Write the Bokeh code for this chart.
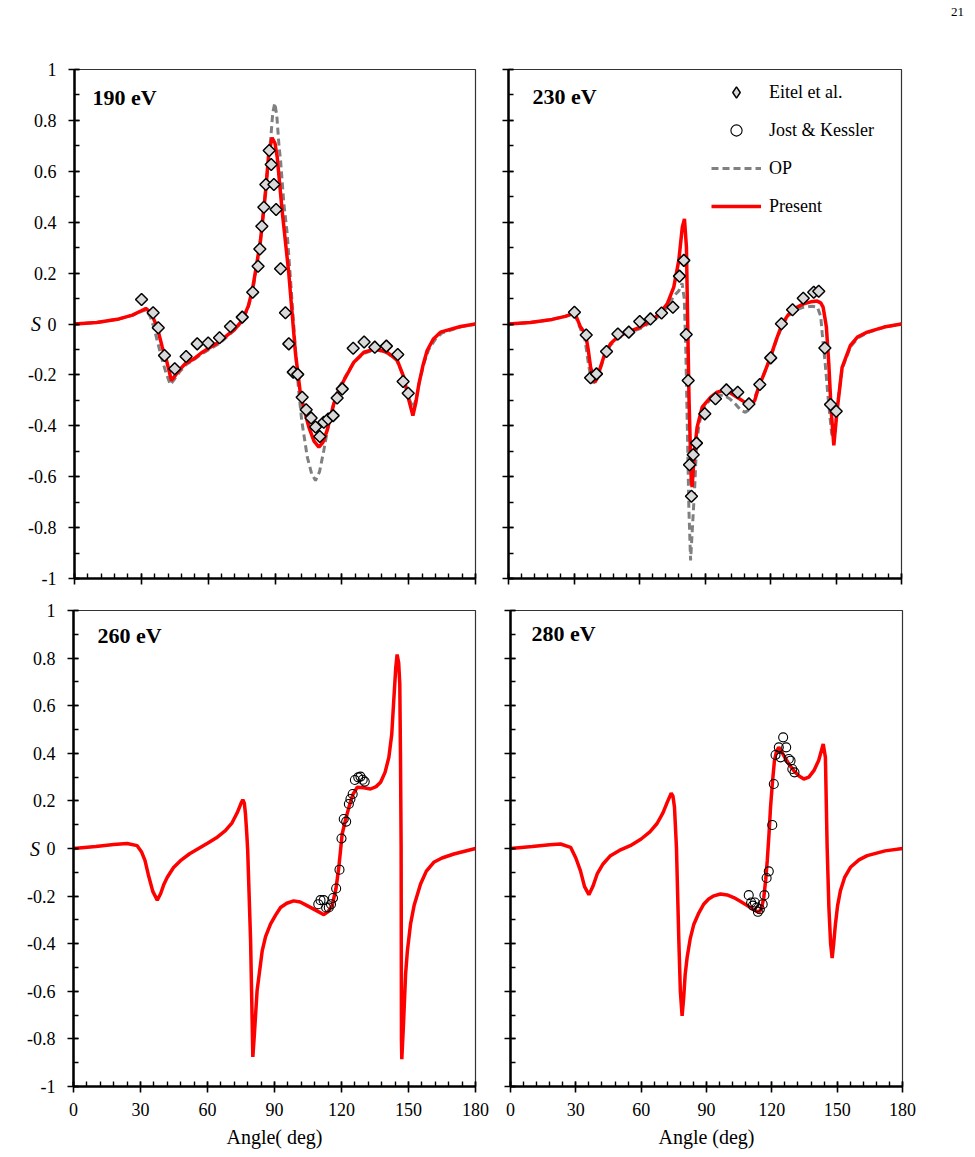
import numpy as np
from bokeh.plotting import figure
from bokeh.models import (Range1d, FixedTicker, Label, Legend, LegendItem, Div,
                          CustomJSTickFormatter, CustomLabelingPolicy)
from bokeh.layouts import row, column
from bokeh.embed import file_html
from bokeh.resources import INLINE

FONT = "Liberation Serif"

# ---------------- ticks ----------------
x_ticks = [0, 30, 60, 90, 120, 150, 180]
x_minor = [0, 6, 12, 18, 24, 30, 36, 42, 48, 54, 60, 66, 72, 78, 84, 90, 96, 102,
           108, 114, 120, 126, 132, 138, 144, 150, 156, 162, 168, 174, 180]
y_ticks = [-1, -0.8, -0.6, -0.4, -0.2, 0, 0.2, 0.4, 0.6, 0.8, 1]
y_minor = [-1, -0.9, -0.8, -0.7, -0.6, -0.5, -0.4, -0.3, -0.2, -0.1, 0, 0.1, 0.2,
           0.3, 0.4, 0.5, 0.6, 0.7, 0.8, 0.9, 1]

# ---------------- 190 eV ----------------
pr190_x = [0, 10, 20, 26, 30, 32, 34.1, 35.5, 37.1, 39.4, 41.3, 43.5, 45, 46.8, 49.8,
           53.6, 57, 61, 65, 68.5, 72, 75.3, 78, 79.8, 81.5, 83.5, 85.7, 87.2, 88.7,
           90, 91, 93.2, 96.2, 99.2, 101.4, 103.5, 105.2, 107.5, 109.7, 111.5, 113.4,
           116.4, 118.5, 120.9, 125.4, 129.9, 135.1, 140.4, 144.9, 147.8, 150.1,
           151.9, 153.2, 154.6, 156.5, 158.3, 161, 164.3, 173.3, 180]
pr190_y = [0, 0.006, 0.02, 0.035, 0.052, 0.061, 0.046, 0.02, -0.012, -0.091, -0.143,
           -0.222, -0.205, -0.183, -0.155, -0.137, -0.113, -0.091, -0.07, -0.045,
           -0.02, 0.014, 0.07, 0.132, 0.22, 0.328, 0.513, 0.67, 0.732, 0.71, 0.655,
           0.446, 0.198, -0.116, -0.273, -0.35, -0.405, -0.46, -0.484, -0.465,
           -0.418, -0.314, -0.262, -0.222, -0.15, -0.111, -0.098, -0.111, -0.143,
           -0.209, -0.30, -0.36, -0.31, -0.235, -0.16, -0.104, -0.06, -0.032, -0.01, 0]
op190_x = [0, 10, 20, 26, 30, 32, 34, 35.5, 37, 39, 41, 43, 45, 47, 50, 53.6, 57, 61,
           65, 68.5, 72, 75.3, 78, 80, 82, 84, 86, 88, 89, 89.9, 90.8, 91.8, 92.5, 94,
           95.5, 97, 99, 100.5, 102, 104.5, 106.5, 108.2, 110, 111.9, 113.5, 115.1,
           117, 119, 121, 125.4, 130, 135, 140, 144.5, 147.5, 150, 152, 153.5, 155,
           157, 159, 162, 165, 173, 180]
op190_y = [0, 0.006, 0.02, 0.035, 0.05, 0.055, 0.03, -0.01, -0.06, -0.13, -0.19,
           -0.238, -0.215, -0.19, -0.16, -0.14, -0.118, -0.097, -0.077, -0.05, -0.022,
           0.012, 0.065, 0.13, 0.24, 0.37, 0.55, 0.72, 0.83, 0.868, 0.82, 0.7, 0.642,
           0.472, 0.354, 0.17, -0.08, -0.25, -0.38, -0.523, -0.59, -0.615, -0.58,
           -0.497, -0.42, -0.352, -0.29, -0.245, -0.215, -0.15, -0.115, -0.1, -0.113,
           -0.14, -0.2, -0.29, -0.33, -0.29, -0.22, -0.15, -0.1, -0.06, -0.035,
           -0.012, 0]
ei190_x = [30.1, 35.3, 37.6, 40.4, 45, 50.1, 55.1, 60, 65.1, 70, 75.3, 80, 82.4, 83.2,
           84.1, 85, 85.9, 87.4, 88.3, 89.5, 90.5, 92.5, 94.7, 96.2, 98.2, 100.2,
           102.2, 104, 106.2, 108.2, 110.1, 111.9, 113.9, 116.1, 117.9, 120.2, 125.1,
           130, 134.8, 140, 145.1, 147.5, 149.8]
ei190_y = [0.096, 0.044, -0.015, -0.124, -0.176, -0.128, -0.078, -0.075, -0.054,
           -0.01, 0.027, 0.125, 0.227, 0.295, 0.384, 0.459, 0.548, 0.682, 0.627,
           0.548, 0.45, 0.217, 0.044, -0.078, -0.189, -0.198, -0.288, -0.337, -0.369,
           -0.405, -0.442, -0.386, -0.373, -0.36, -0.291, -0.255, -0.095, -0.071,
           -0.091, -0.087, -0.12, -0.226, -0.272]

# ---------------- 230 eV ----------------
pr230_x = [0, 10, 20, 26, 29.2, 31, 33, 35.3, 36.5, 37.6, 39.5, 40.8, 42.1, 44, 46.7,
           49.5, 52.8, 56.5, 60.5, 63.5, 66.5, 69.5, 72.7, 75.7, 78, 79.6, 80.6, 81.5,
           82.1, 82.7, 83.7, 84.1, 85.2, 86.4, 88.7, 92.5, 95.5, 98.6, 101.5, 104.7,
           107.8, 110.8, 112.8, 114.6, 117.3, 120, 122.7, 125.4, 128, 130.7, 135.2,
           138.5, 141.4, 143, 144.1, 145, 145.6, 146.7, 147.8, 149, 150.5, 152.8,
           156.6, 160, 164.3, 172, 180]
pr230_y = [0, 0.006, 0.018, 0.03, 0.04, 0.03, -0.012, -0.039, -0.1, -0.17, -0.229,
           -0.21, -0.17, -0.12, -0.078, -0.055, -0.039, -0.025, -0.012, 0.004, 0.02,
           0.045, 0.079, 0.145, 0.25, 0.38, 0.413, 0.302, -0.012, -0.30, -0.615,
           -0.641, -0.497, -0.405, -0.327, -0.288, -0.268, -0.261, -0.27, -0.288,
           -0.305, -0.324, -0.3, -0.248, -0.19, -0.13, -0.06, 0.001, 0.035, 0.06,
           0.079, 0.087, 0.09, 0.083, 0.066, 0.02, -0.012, -0.156, -0.34, -0.477,
           -0.34, -0.17, -0.084, -0.05, -0.032, -0.012, 0]
op230_x = [0, 10, 20, 26, 29, 31, 33, 35, 36.5, 37.6, 39, 40.5, 42.1, 44, 46.7, 49.5,
           52.8, 56.5, 60.5, 63.5, 66.5, 69.5, 72.7, 75.7, 78, 79.5, 80.5, 81.2, 81.9,
           82.6, 83.4, 84.6, 85.3, 86, 87, 88.7, 92.5, 95.5, 98.6, 101.5, 104, 106.5,
           108.5, 110.5, 112.5, 114.6, 117.3, 120, 122.7, 125.4, 128, 130.7, 135.2,
           139, 141.5, 143, 143.7, 145, 146.5, 148, 149.2, 150.5, 152.8, 156.6, 160,
           164.3, 172, 180]
op230_y = [0, 0.006, 0.018, 0.03, 0.038, 0.025, -0.02, -0.06, -0.15, -0.205, -0.232,
           -0.215, -0.175, -0.125, -0.083, -0.06, -0.044, -0.03, -0.017, -0.002, 0.013,
           0.035, 0.066, 0.11, 0.13, 0.16, 0.1, -0.1, -0.4, -0.72, -0.929, -0.745,
           -0.64, -0.5, -0.41, -0.335, -0.295, -0.28, -0.28, -0.295, -0.315, -0.34,
           -0.347, -0.335, -0.295, -0.25, -0.19, -0.13, -0.065, -0.005, 0.03, 0.052,
           0.066, 0.07, 0.066, 0.03, -0.039, -0.15, -0.3, -0.43, -0.46, -0.33, -0.175,
           -0.09, -0.055, -0.035, -0.013, 0]
ei230_x = [30.2, 35.6, 37.6, 40.3, 44.9, 50.1, 55.1, 60.1, 65, 70.1, 75.3, 78.3, 80.3,
           81.4, 82.3, 82.9, 83.8, 84.6, 86.1, 89.9, 94.8, 99.8, 105, 110.1, 115.1,
           120.1, 125, 130.1, 135, 139.8, 142.1, 144.9, 147.5, 150.1]
ei230_y = [0.046, -0.043, -0.211, -0.196, -0.108, -0.039, -0.032, 0.01, 0.02, 0.043,
           0.066, 0.188, 0.25, -0.041, -0.222, -0.553, -0.677, -0.514, -0.468, -0.353,
           -0.294, -0.259, -0.268, -0.314, -0.238, -0.133, 0.001, 0.056, 0.101, 0.125,
           0.129, -0.094, -0.316, -0.343]

# ---------------- 260 eV ----------------
pr260_x = [0, 10, 18, 24, 28.5, 30.5, 32, 33.5, 35.5, 37.5, 39, 40.5, 42, 44.8, 47.9,
           52, 56, 60, 64, 68, 71, 73.3, 75, 75.8, 76.5, 77, 77.6, 78, 79.3, 80.3, 81,
           82.2, 84.5, 86, 88.2, 90.5, 92.7, 95.5, 98.6, 101.5, 104.6, 109, 112.1, 114,
           115.8, 117.5, 118.8, 120.3, 121.8, 123.3, 125, 127, 130, 133, 135.5, 137.5,
           139.5, 141.2, 142.5, 143.4, 144.3, 144.9, 145.6, 146.1, 146.4, 146.7,
           146.85, 147, 147.7, 148.7, 149.5, 150.9, 152.5, 155.4, 158, 161.3, 165,
           170.3, 180]
pr260_y = [0, 0.008, 0.017, 0.021, 0.012, -0.015, -0.05, -0.11, -0.18, -0.217, -0.19,
           -0.15, -0.121, -0.08, -0.051, -0.022, 0.0, 0.022, 0.045, 0.075, 0.108, 0.15,
           0.19, 0.205, 0.19, 0.145, 0.06, -0.009, -0.388, -0.876, -0.78, -0.598,
           -0.43, -0.37, -0.318, -0.28, -0.248, -0.23, -0.22, -0.225, -0.24, -0.262,
           -0.278, -0.265, -0.24, -0.17, -0.079, 0.061, 0.12, 0.173, 0.225, 0.257,
           0.255, 0.25, 0.26, 0.278, 0.32, 0.383, 0.48, 0.622, 0.76, 0.815, 0.78,
           0.692, 0.4, 0.005, -0.808, -0.885, -0.75, -0.528, -0.43, -0.318, -0.24,
           -0.149, -0.095, -0.058, -0.04, -0.023, 0]
jk260_x = [109.6, 110.6, 112, 113.1, 114.3, 115.3, 116.2, 117.6, 119.1, 120, 121,
           122.1, 123.3, 124, 125, 126, 127.5, 128.5, 129.5, 130.4]
jk260_y = [-0.234, -0.217, -0.217, -0.248, -0.248, -0.234, -0.208, -0.168, -0.089,
           0.042, 0.124, 0.113, 0.187, 0.208, 0.229, 0.288, 0.299, 0.302, 0.289, 0.281]

# ---------------- 280 eV ----------------
pr280_x = [0, 10, 18, 23, 27.6, 30, 32.1, 34, 36, 37.8, 39.8, 42.5, 45.9, 50, 55, 60,
           64, 67.3, 70, 72, 73.8, 74.6, 75.3, 76.2, 77.3, 78, 78.8, 79.5, 80.2, 81.1,
           82.5, 84.2, 86.5, 88.8, 91, 93.4, 96.4, 99.5, 102.5, 105.5, 108.7, 112, 114,
           115.3, 116.3, 117.2, 117.9, 118.7, 119.4, 120.3, 121.2, 122.2, 123.2, 124.3,
           125.5, 127.8, 130.1, 132.5, 134.7, 137, 139.3, 141.5, 143.6, 144.6, 145.4,
           146.2, 147, 147.7, 148.4, 149.2, 150.2, 151.5, 153.5, 156.1, 160, 163.8,
           172, 180]
pr280_y = [0, 0.008, 0.016, 0.019, 0.005, -0.04, -0.093, -0.16, -0.194, -0.16, -0.107,
           -0.065, -0.03, -0.008, 0.012, 0.04, 0.07, 0.105, 0.15, 0.195, 0.232, 0.22,
           0.173, 0.005, -0.388, -0.6, -0.703, -0.63, -0.53, -0.458, -0.38, -0.318,
           -0.27, -0.233, -0.212, -0.199, -0.191, -0.195, -0.206, -0.222, -0.24,
           -0.258, -0.269, -0.25, -0.206, -0.13, -0.051, 0.06, 0.173, 0.28, 0.369,
           0.41, 0.425, 0.41, 0.39, 0.355, 0.327, 0.305, 0.292, 0.3, 0.327, 0.37, 0.439,
           0.383, 0.005, -0.248, -0.4, -0.46, -0.4, -0.318, -0.24, -0.177, -0.12,
           -0.079, -0.048, -0.03, -0.01, 0]
jk280_x = [109.4, 110.5, 111.3, 112.2, 113, 113.6, 114.5, 115.8, 116.6, 117.6, 118.6,
           120.2, 120.9, 121.7, 123.2, 124, 125.2, 126.6, 127.8, 128.6, 129.4, 130.4]
jk280_y = [-0.196, -0.227, -0.24, -0.227, -0.248, -0.266, -0.255, -0.234, -0.196,
           -0.124, -0.096, 0.099, 0.271, 0.393, 0.425, 0.383, 0.467, 0.425, 0.376,
           0.369, 0.334, 0.32]

RED = "#ff0000"
GRAY = "#808080"
DIAMOND_FILL = "#d9d9d9"

fmt = CustomJSTickFormatter(code="return String(Number(tick.toFixed(1)));")
no_labels = CustomLabelingPolicy(code="""
try {
  const all = Array.from(indices);
  for (const i of all) { indices.unset(i); }
} catch (e) {}
return indices;
""")


def make_fig(fw, fh, bl, br, bt, bb, show_xlabels, show_ylabels, xlabel=None, ylabel=None):
    p = figure(frame_width=fw, frame_height=fh, min_border_left=bl, min_border_right=br,
               min_border_top=bt, min_border_bottom=bb,
               x_range=Range1d(0, 180), y_range=Range1d(-1, 1),
               output_backend="svg", toolbar_location=None,
               background_fill_color="white", border_fill_color="white")
    p.grid.visible = False
    p.outline_line_color = "#333333"
    p.outline_line_width = 1.2
    for ax in (p.xaxis[0], p.yaxis[0]):
        ax.axis_line_color = "black"
        ax.axis_line_width = 2.5
        ax.major_tick_line_color = "black"
        ax.major_tick_line_width = 1.6
        ax.minor_tick_line_color = "black"
        ax.minor_tick_line_width = 1.4
        ax.major_tick_in = 5
        ax.major_tick_out = 6
        ax.minor_tick_in = 5
        ax.minor_tick_out = 0
        ax.major_label_text_font = FONT
        ax.major_label_text_font_size = "18px"
        ax.major_label_text_color = "black"
        ax.axis_label_text_font = FONT
        ax.axis_label_text_color = "black"
        ax.axis_label_text_font_style = "normal"
        ax.formatter = fmt
    p.xaxis[0].ticker = FixedTicker(ticks=x_ticks, minor_ticks=x_minor)
    p.yaxis[0].ticker = FixedTicker(ticks=y_ticks, minor_ticks=y_minor)
    p.xaxis[0].major_label_standoff = 10
    p.yaxis[0].major_label_standoff = 12
    if not show_xlabels:
        p.xaxis[0].major_label_text_font_size = "0px"
        p.xaxis[0].major_label_standoff = 0
        p.xaxis[0].major_label_policy = no_labels
    if not show_ylabels:
        p.yaxis[0].major_label_text_font_size = "0px"
        p.yaxis[0].major_label_standoff = 0
        p.yaxis[0].major_label_policy = no_labels
    if xlabel:
        p.xaxis[0].axis_label = xlabel
        p.xaxis[0].axis_label_text_font_size = "20px"
        p.xaxis[0].axis_label_standoff = 7
    if ylabel:
        p.yaxis[0].axis_label = ylabel
        p.yaxis[0].axis_label_text_font_size = "20px"
        p.yaxis[0].axis_label_text_font_style = "italic"
        p.yaxis[0].axis_label_orientation = "horizontal"
        p.yaxis[0].axis_label_standoff = -16
    return p


def panel_label(p, text, x, y):
    p.add_layout(Label(x=x, y=y, x_units="screen", y_units="screen", text=text,
                       text_font=FONT, text_font_size="22px", text_font_style="bold",
                       text_color="black", text_align="left", text_baseline="middle"))


def add_op(p, xs, ys):
    return p.line(xs, ys, line_color=GRAY, line_width=3, line_dash="7 4")


def add_present(p, xs, ys):
    return p.line(xs, ys, line_color=RED, line_width=3.5)


def add_eitel(p, xs, ys):
    return p.scatter(xs, ys, marker="square", angle=np.pi / 4, size=8.5,
                     fill_color=DIAMOND_FILL, line_color="black", line_width=1.5)


def add_jk(p, xs, ys):
    return p.scatter(xs, ys, marker="circle", size=9, fill_color=None,
                     line_color="black", line_width=1.1)


# Top-left: 190 eV
p1 = make_fig(401, 509, 74, 16, 45, 16, False, True, ylabel="S")
add_op(p1, op190_x, op190_y)
add_present(p1, pr190_x, pr190_y)
add_eitel(p1, ei190_x, ei190_y)
panel_label(p1, "190 eV", 18, 481)

# Top-right: 230 eV
p2 = make_fig(393, 509, 17, 74, 45, 16, False, False)
r_op = add_op(p2, op230_x, op230_y)
r_pr = add_present(p2, pr230_x, pr230_y)
add_eitel(p2, ei230_x, ei230_y)
# legend-only placeholder glyphs (no visible data)
r_ei_leg = p2.scatter(x=[np.nan], y=[np.nan], marker="diamond", size=11,
                      fill_color=DIAMOND_FILL, line_color="black", line_width=1.5)
r_jk_leg = p2.scatter(x=[np.nan], y=[np.nan], marker="circle", size=9, fill_color=None,
                      line_color="black", line_width=1.1)
panel_label(p2, "230 eV", 24, 482)
legend = Legend(items=[LegendItem(label="Eitel et al.", renderers=[r_ei_leg]),
                       LegendItem(label="Jost & Kessler", renderers=[r_jk_leg]),
                       LegendItem(label="OP", renderers=[r_op]),
                       LegendItem(label="Present", renderers=[r_pr])],
                location=(203, 358), orientation="vertical",
                glyph_width=50, glyph_height=28, label_height=20, spacing=10,
                label_standoff=8, padding=0, margin=0,
                border_line_alpha=0, background_fill_alpha=0,
                label_text_font=FONT, label_text_font_size="18px",
                label_text_color="black")
p2.add_layout(legend)

# Bottom-left: 260 eV
p3 = make_fig(402, 476, 73, 17, 16, 71, True, True, xlabel="Angle( deg)", ylabel="S")
add_present(p3, pr260_x, pr260_y)
add_jk(p3, jk260_x, jk260_y)
panel_label(p3, "260 eV", 24, 451)

# Bottom-right: 280 eV
p4 = make_fig(392, 476, 18, 73, 16, 71, True, False, xlabel="Angle (deg)")
add_present(p4, pr280_x, pr280_y)
add_jk(p4, jk280_x, jk280_y)
panel_label(p4, "280 eV", 21, 453)

page_no = Div(text='<div style="width:964px;text-align:right;font-family:\'Liberation Serif\';'
                   'font-size:13px;line-height:24px;color:black;">21</div>',
              width=975, height=24, margin=0)

layout = column(page_no, row(p1, p2, spacing=0), row(p3, p4, spacing=0), spacing=0)

open("out.html", "w").write(file_html(layout, INLINE))
